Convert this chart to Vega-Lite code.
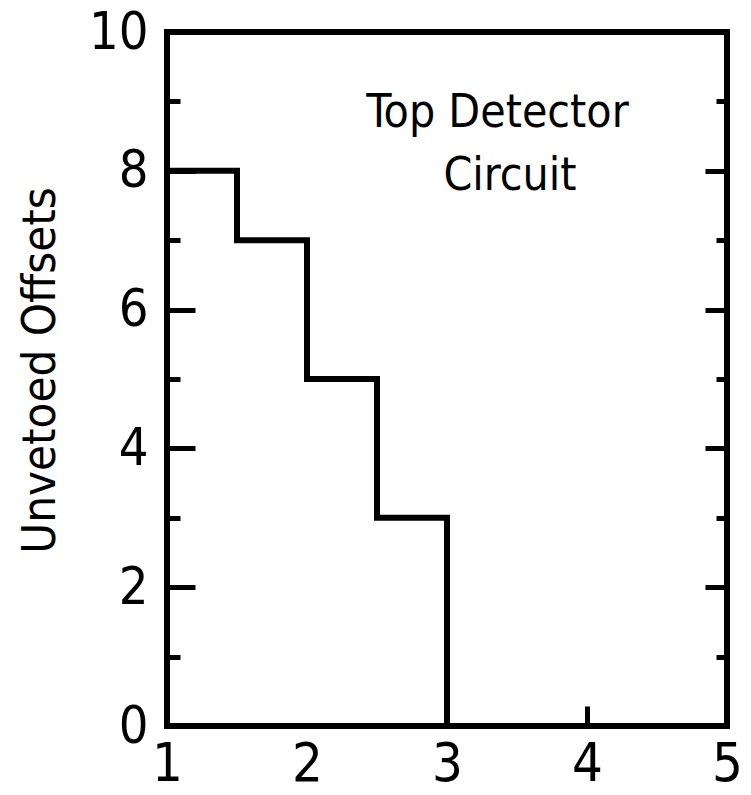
{
  "$schema": "https://vega.github.io/schema/vega-lite/v6.json",
  "autosize": {"type": "none"},
  "width": 560,
  "height": 694,
  "padding": {"left": 167, "top": 32, "right": 24, "bottom": 69},
  "background": "white",
  "config": {
    "view": {"stroke": "black", "strokeWidth": 6},
    "font": "Liberation Sans Narrow, DejaVu Sans Condensed, Roboto Condensed, sans-serif"
  },
  "datasets": {
    "steps": [
      {"threshold": 1.0, "offsets": 8},
      {"threshold": 1.5, "offsets": 7},
      {"threshold": 2.0, "offsets": 5},
      {"threshold": 2.5, "offsets": 3},
      {"threshold": 3.0, "offsets": 0}
    ],
    "notes": [
      {"threshold": 3.36, "offsets": 8.63, "text": "Top Detector"},
      {"threshold": 3.45, "offsets": 7.72, "text": "Circuit"}
    ]
  },
  "layer": [
    {
      "data": {"name": "steps"},
      "mark": {"type": "line", "interpolate": "step-after", "color": "black", "strokeWidth": 6, "strokeJoin": "miter", "strokeCap": "square"},
      "encoding": {
        "x": {
          "field": "threshold", "type": "quantitative",
          "scale": {"domain": [1, 5], "nice": false, "zero": false},
          "axis": {
            "orient": "bottom", "values": [1, 2, 3, 4, 5], "title": null, "domain": false, "grid": false,
            "tickSize": -20, "tickWidth": 5, "tickColor": "black",
            "tickOpacity": {"condition": {"test": "datum.value === 4 || datum.value === 3", "value": 1}, "value": 0},
            "labelFont": "Liberation Sans Narrow, DejaVu Sans Condensed, sans-serif",
            "labelFontSize": 54, "labelColor": "black", "labelPadding": 31, "labelFlush": false, "labelBound": false, "labelOverlap": false
          }
        },
        "y": {
          "field": "offsets", "type": "quantitative",
          "scale": {"domain": [0, 10], "nice": false, "zero": true},
          "axis": {
            "orient": "left", "values": [0, 1, 2, 3, 4, 5, 6, 7, 8, 9, 10], "domain": false, "grid": false,
            "labelExpr": "datum.value % 2 === 0 ? datum.label : ''",
            "tickSize": {"condition": {"test": "datum.value % 2 === 0", "value": -28}, "value": -13},
            "tickWidth": 5, "tickColor": "black",
            "labelFont": "Liberation Sans Narrow, DejaVu Sans Condensed, sans-serif",
            "labelFontSize": 52, "labelColor": "black", "labelPadding": 47, "labelFlush": false, "labelBound": false, "labelOverlap": false,
            "title": "Unvetoed Offsets",
            "titleFont": "Liberation Sans Narrow, DejaVu Sans Condensed, sans-serif",
            "titleFontSize": 47, "titleFontWeight": "normal", "titleColor": "black",
            "titleAngle": -90, "titleX": -127, "titleY": 338, "titleAlign": "center", "titleBaseline": "middle"
          }
        }
      }
    },
    {
      "data": {"name": "notes"},
      "mark": {"type": "text", "color": "black", "fontSize": 46, "align": "center", "baseline": "alphabetic", "font": "Liberation Sans Narrow, DejaVu Sans Condensed, sans-serif"},
      "encoding": {
        "x": {"field": "threshold", "type": "quantitative", "axis": null},
        "y": {
          "field": "offsets", "type": "quantitative",
          "axis": {
            "orient": "right", "values": [1, 2, 3, 4, 5, 6, 7, 8, 9], "domain": false, "grid": false, "labels": false, "title": null,
            "tickSize": {"condition": {"test": "datum.value % 2 === 0", "value": -22}, "value": -11},
            "tickWidth": 5, "tickColor": "black"
          }
        },
        "text": {"field": "text", "type": "nominal"}
      }
    }
  ],
  "resolve": {"axis": {"x": "independent", "y": "independent"}}
}
